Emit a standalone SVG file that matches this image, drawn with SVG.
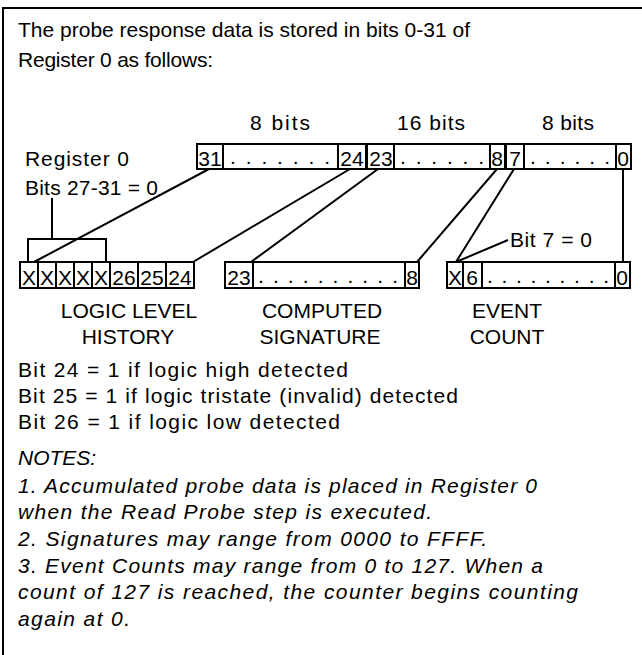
<svg xmlns="http://www.w3.org/2000/svg" width="642" height="655" viewBox="0 0 642 655">
<style>
text{font-family:"Liberation Sans",Arial,sans-serif;font-size:21px;fill:#000}
.it{font-style:italic}
.c{text-anchor:middle}
.box{fill:#fff;stroke:#000;stroke-width:2}
.ln{fill:none;stroke:#000;stroke-width:2}
</style>
<rect width="642" height="655" fill="#fff"/>
<path class="ln" d="M3,655 V8 H642"/>
<g id="intro">
<text x="18" y="37" textLength="452" lengthAdjust="spacing">The probe response data is stored in bits 0-31 of</text>
<text x="18" y="67" textLength="195" lengthAdjust="spacing">Register 0 as follows:</text>
</g>
<g id="widths">
<text x="250" y="130" textLength="60" lengthAdjust="spacing">8 bits</text>
<text x="397" y="130" textLength="68" lengthAdjust="spacing">16 bits</text>
<text x="542" y="130" textLength="52" lengthAdjust="spacing">8 bits</text>
</g>
<g id="reglabel">
<text x="25" y="166" textLength="104" lengthAdjust="spacing">Register 0</text>
<text x="25" y="195" textLength="133" lengthAdjust="spacing">Bits 27-31 = 0</text>
</g>
<g id="register0">
<rect class="box" x="197" y="144" width="169" height="25"/>
<rect class="box" x="367" y="144" width="138" height="25"/>
<rect class="box" x="506" y="144" width="125" height="25"/>
<path class="ln" d="M223,144V169M338,144V169M394,144V169M490,144V169M524,144V169M616,144V169"/>
<text class="c" x="210" y="166">31</text>
<text x="230" y="164" textLength="100" lengthAdjust="spacing">. . . . . . .</text>
<text class="c" x="352" y="166">24</text>
<text class="c" x="381" y="166">23</text>
<text x="400" y="164" textLength="84" lengthAdjust="spacing">. . . . . .</text>
<text class="c" x="497" y="166">8</text>
<text class="c" x="515" y="166">7</text>
<text x="530" y="164" textLength="80" lengthAdjust="spacing">. . . . . .</text>
<text class="c" x="623" y="166">0</text>
</g>
<g id="logic-level-history">
<rect class="box" x="20" y="262" width="174" height="26"/>
<path class="ln" d="M38,262V288M56,262V288M74,262V288M92,262V288M110,262V288M138,262V288M166,262V288"/>
<text class="c" x="29" y="285">X</text>
<text class="c" x="47" y="285">X</text>
<text class="c" x="65" y="285">X</text>
<text class="c" x="83" y="285">X</text>
<text class="c" x="101" y="285">X</text>
<text class="c" x="124" y="285">26</text>
<text class="c" x="152" y="285">25</text>
<text class="c" x="180" y="285">24</text>
<text class="c" x="129" y="318">LOGIC LEVEL</text>
<text class="c" x="128" y="344">HISTORY</text>
</g>
<g id="computed-signature">
<rect class="box" x="225" y="262" width="194" height="26"/>
<path class="ln" d="M253,262V288M405,262V288"/>
<text class="c" x="239" y="285">23</text>
<text x="258" y="283" textLength="140" lengthAdjust="spacing">. . . . . . . . . .</text>
<text class="c" x="412" y="285">8</text>
<text class="c" x="322" y="318">COMPUTED</text>
<text class="c" x="320" y="344">SIGNATURE</text>
</g>
<g id="event-count">
<rect class="box" x="447" y="262" width="183" height="26"/>
<path class="ln" d="M463,262V288M482,262V288M615,262V288"/>
<text class="c" x="455" y="285">X</text>
<text class="c" x="472" y="285">6</text>
<text x="487" y="283" textLength="122" lengthAdjust="spacing">. . . . . . . . .</text>
<text class="c" x="622" y="285">0</text>
<text class="c" x="507" y="318">EVENT</text>
<text class="c" x="507" y="344">COUNT</text>
<text x="510" y="247" textLength="82" lengthAdjust="spacing">Bit 7 = 0</text>
</g>
<g id="connectors">
<path class="ln" d="M209,169L34,262"/>
<path class="ln" d="M350,169L193,262"/>
<path class="ln" d="M378,169L251,262"/>
<path class="ln" d="M497,169L417,262"/>
<path class="ln" d="M514,169L456,262"/>
<path class="ln" d="M456,262L508,240"/>
<path class="ln" d="M623,169V262"/>
<path class="ln" d="M28,262V239H106V262M52,239V198"/>
</g>
<g id="bitnotes">
<text x="18" y="377" textLength="330" lengthAdjust="spacing">Bit 24 = 1 if logic high detected</text>
<text x="18" y="403" textLength="440" lengthAdjust="spacing">Bit 25 = 1 if logic tristate (invalid) detected</text>
<text x="18" y="429" textLength="322" lengthAdjust="spacing">Bit 26 = 1 if logic low detected</text>
</g>
<g id="notes">
<text class="it" x="18" y="465">NOTES:</text>
<text class="it" x="18" y="493" textLength="519" lengthAdjust="spacing">1. Accumulated probe data is placed in Register 0</text>
<text class="it" x="18" y="519" textLength="414" lengthAdjust="spacing">when the Read Probe step is executed.</text>
<text class="it" x="18" y="546" textLength="469" lengthAdjust="spacing">2. Signatures may range from 0000 to FFFF.</text>
<text class="it" x="18" y="573" textLength="525" lengthAdjust="spacing">3. Event Counts may range from 0 to 127. When a</text>
<text class="it" x="18" y="599" textLength="560" lengthAdjust="spacing">count of 127 is reached, the counter begins counting</text>
<text class="it" x="18" y="626" textLength="112" lengthAdjust="spacing">again at 0.</text>
</g>
</svg>
